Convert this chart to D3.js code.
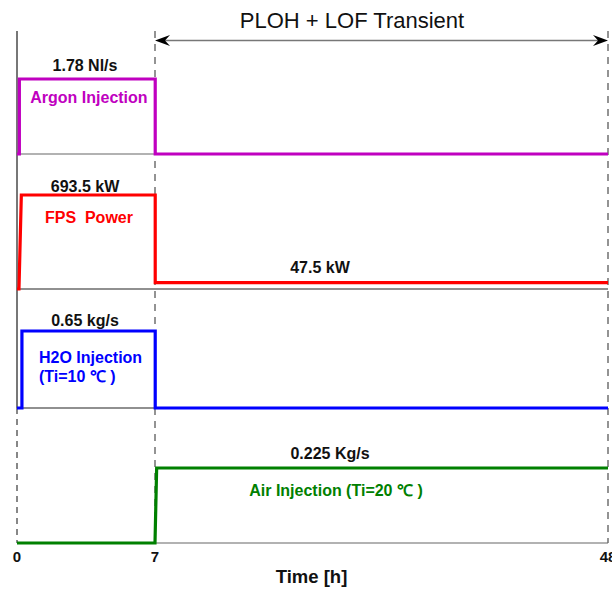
<!DOCTYPE html>
<html><head><meta charset="utf-8">
<script src="https://cdn.jsdelivr.net/npm/d3@7"></script>
<style>body{margin:0;background:#fff}svg{display:block;font-family:"Liberation Sans",Arial,sans-serif}text{white-space:pre}</style>
</head><body><svg id="c" width="612" height="589"></svg>
<script>
// ---- data ----
const xTicks = [0, 7, 48];
const argonT = [0, 0.12, 0.12, 7.02, 7.02, 48];
const argonV = [0, 0, 1.78, 1.78, 0, 0];
const fpsT = [0, 0.1, 0.22, 7.02, 7.02, 48];
const fpsV = [0, 0, 693.5, 693.5, 47.5, 47.5];
const h2oT = [0, 0.25, 0.25, 7.02, 7.02, 48];
const h2oV = [0, 0, 0.65, 0.65, 0, 0];
const airT = [0, 7, 7.15, 48];
const airV = [0, 0, 0.225, 0.225];
const valueLabels = ["1.78 Nl/s", "693.5 kW", "47.5 kW", "0.65 kg/s", "0.225 Kg/s"];
const seriesNames = ["Argon Injection", "FPS  Power", "H2O Injection", "(Ti=10 \u2103 )", "Air Injection (Ti=20 \u2103 )"];
const title = "PLOH + LOF Transient";
const xTitle = "Time [h]";

const svg = d3.select("#c");
const x = d3.scaleLinear().domain(xTicks).range([17, 155, 608]);

const panels = [
  {t: argonT, v: argonV, max: 1.78, top: 79, base: 154, color: "#c000c0"},
  {t: fpsT, v: fpsV, max: 693.5, top: 195, base: 289, color: "#ff0000"},
  {t: h2oT, v: h2oV, max: 0.65, top: 331, base: 408, color: "#0000ff"},
  {t: airT, v: airV, max: 0.225, top: 468, base: 543, color: "#008000"}
];
panels.forEach(p => p.y = d3.scaleLinear().domain([0, p.max]).range([p.base, p.top]));

// baselines
const baseColors = ["#666", "#222", "#222", "#666"];
panels.forEach((p, i) => {
  svg.append("line").attr("x1", x(0)).attr("x2", x(48)).attr("y1", p.base).attr("y2", p.base)
    .attr("stroke", baseColors[i]).attr("stroke-width", 1.2);
});

// left axis
svg.append("line").attr("x1", x(0)).attr("x2", x(0)).attr("y1", 31).attr("y2", 408)
  .attr("stroke", "#555").attr("stroke-width", 1.6);
svg.append("line").attr("x1", x(0)).attr("x2", x(0)).attr("y1", 408).attr("y2", 543)
  .attr("stroke", "#555").attr("stroke-width", 1.4).attr("stroke-dasharray", "6,5");

// dashed verticals
[7, 48].forEach(t => {
  svg.append("line").attr("x1", x(t)).attr("x2", x(t)).attr("y1", 31).attr("y2", 543)
    .attr("stroke", "#666").attr("stroke-width", 1.4).attr("stroke-dasharray", "7,6");
});

// series lines
panels.forEach(p => {
  const pts = p.t.map((t, i) => [x(t), p.y(p.v[i])]);
  svg.append("path").attr("d", d3.line()(pts)).attr("fill", "none")
    .attr("stroke", p.color).attr("stroke-width", 3.2).attr("stroke-linejoin", "miter");
});

// arrow
const ay = 40.5;
svg.append("line").attr("x1", x(7) + 6).attr("x2", x(48) - 6).attr("y1", ay).attr("y2", ay)
  .attr("stroke", "#777").attr("stroke-width", 1.6);
function head(tip, dir) {
  const L = 15, H = 5.5, n = 10;
  const p = [[tip, ay], [tip - dir * L, ay - H], [tip - dir * n, ay], [tip - dir * L, ay + H]];
  svg.append("path").attr("d", "M" + p.join("L") + "Z").attr("fill", "#000");
}
head(x(7), -1);
head(x(48), 1);

svg.append("text").attr("x", 352).attr("y", 28).attr("text-anchor", "middle")
  .attr("font-size", 22).attr("fill", "#111").text(title);

// value labels
const bold = (s, xx, yy, col, size, anchor) => svg.append("text").attr("x", xx).attr("y", yy)
  .attr("text-anchor", anchor || "middle").attr("font-weight", "bold").attr("font-size", size)
  .attr("fill", col).attr("xml:space", "preserve").text(s);
bold(valueLabels[0], x(3.45), 71, "#111", 16);
bold(valueLabels[1], x(3.45), 191.5, "#111", 16);
bold(valueLabels[2], x(21.93), 273, "#111", 16);
bold(valueLabels[3], x(3.45), 325.5, "#111", 16);
bold(valueLabels[4], x(22.84), 459, "#111", 16);

bold(seriesNames[0], x(3.65), 103.3, panels[0].color, 16);
bold(seriesNames[1], x(3.65), 222.7, panels[1].color, 16);
bold(seriesNames[2], 39, 363.3, panels[2].color, 16, "start");
bold(seriesNames[3], 39, 381.5, panels[2].color, 16, "start");
bold(seriesNames[4], x(23.38), 495.5, panels[3].color, 16);

// x axis ticks & title
xTicks.forEach(t => bold(String(t), x(t), 562, "#111", 15));
bold(xTitle, 311.5, 583, "#111", 18.5);
</script></body></html>
